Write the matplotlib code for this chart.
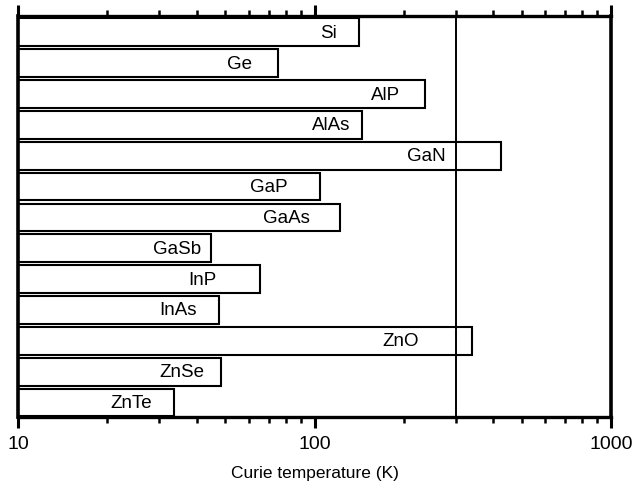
import numpy as np
import matplotlib.pyplot as plt
from matplotlib.ticker import LogLocator, NullFormatter, FixedFormatter, FixedLocator

plt.rcParams['font.family'] = ['Liberation Sans', 'DejaVu Sans']

# predicted Curie temperatures (K)
materials = ["Si", "Ge", "AlP", "AlAs", "GaN", "GaP", "GaAs",
             "GaSb", "InP", "InAs", "ZnO", "ZnSe", "ZnTe"]
tc = [141, 75.6, 236, 145, 424, 104.6, 122,
      44.6, 65.3, 47.5, 340, 48.2, 33.5]
room_temp = 300

# gap (pixels) between label and bar end / 300 K line
label_pad = [22, 26, 25, 12, 10, 33, 30, 9, 43, 22, 37, 16, 22]

fig = plt.figure(figsize=(6.43, 4.89), dpi=100)
ax = fig.add_axes([18/643, 1-418/489, (611-18)/643, (418-17)/489])

y = np.arange(len(materials))
ax.barh(y, np.array(tc) - 10, left=10, height=0.9, color="white",
        edgecolor="black", linewidth=1.5, zorder=2)
ax.axvline(room_temp, color="black", linewidth=1.4, zorder=3)

for i, (name, t) in enumerate(zip(materials, tc)):
    xref = min(t, room_temp)
    ax.annotate(name, (xref, i), xytext=(-label_pad[i], 0),
                textcoords="offset pixels", ha="right", va="center",
                fontsize=13.5, zorder=4)

ax.set_xscale("log")
ax.set_xlim(10, 1000)
ax.set_ylim(12.47, -0.53)
ax.set_yticks([])

ax.xaxis.set_major_locator(FixedLocator([10, 100, 1000]))
ax.xaxis.set_major_formatter(FixedFormatter(["10", "100", "1000"]))
ax.xaxis.set_minor_locator(LogLocator(base=10, subs=np.arange(2, 10)))
ax.xaxis.set_minor_formatter(NullFormatter())
ax.tick_params(axis="x", which="both", top=True, bottom=True, direction="out",
               labelsize=14)
ax.tick_params(axis="x", which="major", length=8, width=2.2, pad=5)
ax.tick_params(axis="x", which="minor", length=4, width=1.8)

for side in ["top", "bottom"]:
    ax.spines[side].set_linewidth(2.4)
for side in ["left", "right"]:
    ax.spines[side].set_linewidth(2.6)

ax.set_xlabel("Curie temperature (K)", fontsize=12.5, labelpad=9)

fig.savefig("out.png", dpi=100)
